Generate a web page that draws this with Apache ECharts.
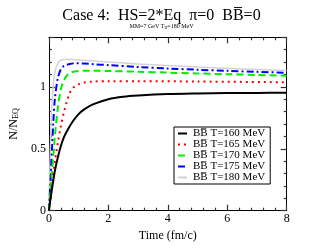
<!DOCTYPE html>
<html><head><meta charset="utf-8">
<script src="https://cdn.jsdelivr.net/npm/echarts@6/dist/echarts.min.js"></script>
<style>html,body{margin:0;padding:0;background:#fff}#c{width:323px;height:249px}</style>
</head><body><div id="c"></div>
<script>
var legendNames = ['BB\u0305 T=160 MeV','BB\u0305 T=165 MeV','BB\u0305 T=170 MeV','BB\u0305 T=175 MeV','BB\u0305 T=180 MeV'];
var t160 = [0,0.05,0.1,0.2,0.3,0.4,0.5,0.6,0.8,1.0,1.2,1.5,2,2.5,3,4,5,6,7,8];
var v160 = [0,0.09,0.17,0.32,0.43,0.52,0.59,0.64,0.72,0.78,0.82,0.86,0.9,0.92,0.93,0.942,0.947,0.95,0.951,0.952];
var t165 = [0,0.05,0.1,0.2,0.3,0.4,0.5,0.6,0.7,0.8,1.0,1.2,1.5,2,3,5,8];
var v165 = [0,0.1,0.2,0.39,0.55,0.68,0.79,0.88,0.95,0.99,1.02,1.035,1.043,1.046,1.046,1.043,1.037];
var t170 = [0,0.05,0.1,0.15,0.2,0.3,0.4,0.5,0.6,0.7,0.9,1.2,1.5,2,3,4,5,6,7,8];
var v170 = [0,0.15,0.3,0.45,0.6,0.83,0.98,1.05,1.09,1.11,1.125,1.13,1.13,1.128,1.122,1.115,1.108,1.102,1.096,1.09];
var t175 = [0,0.05,0.1,0.15,0.2,0.3,0.4,0.5,0.7,0.9,1.2,1.5,2,3,4,5,6,7,8];
var v175 = [0,0.22,0.48,0.72,0.9,1.07,1.14,1.168,1.185,1.19,1.188,1.183,1.175,1.16,1.148,1.138,1.129,1.121,1.114];
var t180 = [0,0.03,0.06,0.1,0.15,0.2,0.3,0.4,0.6,0.8,1,1.5,2,3,4,5,6,7,8];
var v180 = [0,0.3,0.6,0.85,1.02,1.12,1.19,1.215,1.222,1.22,1.216,1.208,1.2,1.185,1.172,1.16,1.15,1.14,1.132];
var xTicks = [0,2,4,6,8];
var yTicks = [0,0.5,1];

function pairs(t,v){return t.map(function(x,i){return [x,v[i]];});}
var font = 'Liberation Serif';
var chart = echarts.init(document.getElementById('c'), null, {renderer:'canvas'});
function mk(extra){
  return Object.assign({
    axisLine:{show:true,onZero:false,lineStyle:{color:'#000',width:1}},
    axisTick:{show:true,inside:true,length:6,lineStyle:{color:'#333',width:1.2}},
    minorTick:{show:true,splitNumber:5,length:3,lineStyle:{color:'#333',width:1.2}},
    splitLine:{show:false}
  }, extra);
}
var styles = [
  {color:'#000000', type:'solid', width:2},
  {color:'#ff0000', type:[2,4], width:2},
  {color:'#00ee00', type:[7,4], width:2},
  {color:'#0000ff', type:[7,3,2,3], width:2},
  {color:'#d3d3d3', type:'solid', width:1.5}
];
var data = [pairs(t160,v160),pairs(t165,v165),pairs(t170,v170),pairs(t175,v175),pairs(t180,v180)];
var series = data.map(function(d,i){
  return {name:legendNames[i], type:'line', data:d, smooth:0.3, symbol:'none', showSymbol:false,
    lineStyle:{color:styles[i].color,type:styles[i].type,width:styles[i].width},
    itemStyle:{color:styles[i].color}, z:10-i, animation:false};
});
chart.setOption({
  animation:false,
  title:{text:'Case 4:  HS=2*Eq  \u03c0=0  BB\u0305=0', left:'center', top:3,
    textStyle:{fontFamily:font,fontSize:16,fontWeight:'normal',color:'#000'}},
  graphic:[{type:'text', left:'center', top:23, style:{
    text:'MM=7 GeV T{s|H}=180 MeV', fill:'#000', font:'6px "Liberation Serif"',
    rich:{s:{fontSize:4,fontFamily:font,verticalAlign:'bottom',padding:[3,0,0,0]}}}}],
  grid:{left:37.5,right:36.3,top:37.3,bottom:38.3},
  xAxis:[
    mk({type:'value',min:0,max:8,interval:2,position:'bottom',
      name:'Time (fm/c)',nameLocation:'middle',nameGap:17,
      nameTextStyle:{fontFamily:font,fontSize:12,color:'#000'},
      axisLabel:{fontFamily:font,fontSize:12,color:'#000',margin:2}}),
    mk({type:'value',min:0,max:8,interval:2,position:'top',axisLabel:{show:false}})
  ],
  yAxis:[
    mk({type:'value',min:0,max:1.4,interval:0.5,position:'left',
      name:'N/N{s|EQ}',nameLocation:'middle',nameGap:20,nameRotate:90,
      nameTextStyle:{fontFamily:font,fontSize:12,color:'#000',
        rich:{s:{fontSize:8,fontFamily:font,verticalAlign:'bottom'}}},
      axisLabel:{fontFamily:font,fontSize:12,color:'#000',margin:3,
        formatter:function(v){return yTicks.indexOf(v)>=0?String(v):'';}}}),
    mk({type:'value',min:0,max:1.4,interval:0.5,position:'right',axisLabel:{show:false}})
  ],
  legend:{orient:'vertical', left:174, top:127,
    data:legendNames, itemWidth:9, itemHeight:11, itemGap:0,
    itemStyle:{opacity:0},
    borderColor:'#000', borderWidth:1, borderRadius:0, padding:[1,5,1,3],
    backgroundColor:'#fff', selectedMode:false,
    textStyle:{fontFamily:font,fontSize:11,lineHeight:11,color:'#000',padding:[0,0,0,1]}},
  series:series
});
</script></body></html>
